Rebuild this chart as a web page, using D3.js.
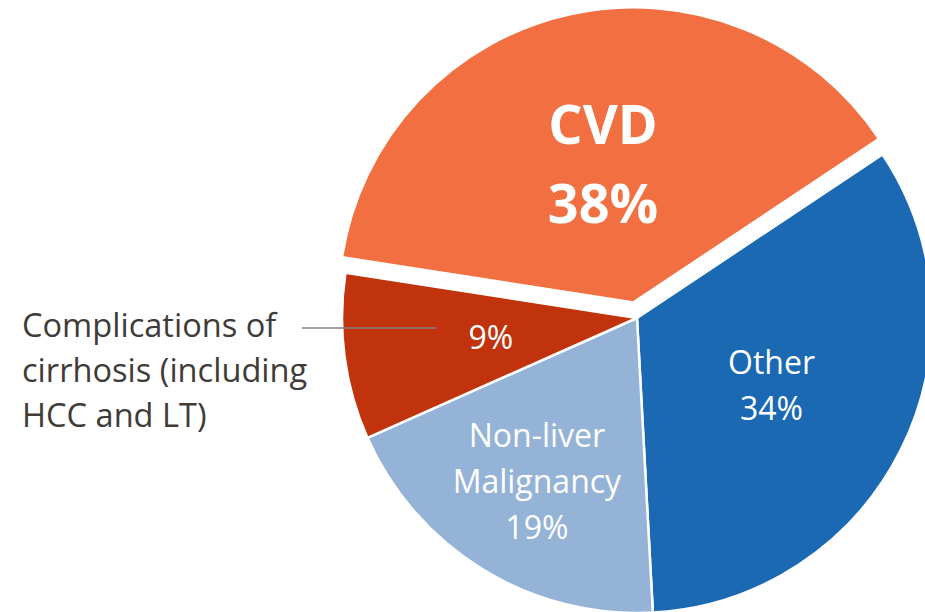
<!DOCTYPE html>
<html>
<head>
<meta charset="utf-8">
<script src="https://cdn.jsdelivr.net/npm/d3@7"></script>
<style>
  body { margin: 0; background: #fff; }
  svg { display: block; }
  text { font-family: "Open Sans", sans-serif; }
</style>
</head>
<body>
<svg id="chart"></svg>
<script>
const categories = ['CVD', 'Other', 'Non-liver Malignancy', 'Complications of cirrhosis (including HCC and LT)']
const values = [38.2, 33.5, 19.2, 9.1]
const pctLabels = ['38%', '34%', '19%', '9%']
const insideLabels = [['CVD'], ['Other'], ['Non-liver', 'Malignancy'], []]
const outsideLabel = ['Complications of', 'cirrhosis (including', 'HCC and LT)']
const colors = ['#F26F41', '#1C69B3', '#95B3D7', '#C0330D']

const W = 925, H = 612,
    cx = 637, cy = 318, R = 295, explode = 16,
    start = -81.2 * Math.PI / 180

// per-slice label settings (radius fraction, font)
const labelR = [0.48, 0.51, 0.65, 0.5],
    labelSize = [54, 32, 32, 32],
    labelWeight = ['bold', 'normal', 'normal', 'normal']

const svg = d3.select('#chart')
    .attr('width', W)
    .attr('height', H)

const pie = d3.pie().sort(null)
    .startAngle(start)
    .endAngle(start + 2 * Math.PI)

const arcs = pie(values)
const arc = d3.arc().innerRadius(0).outerRadius(R)

// only CVD is pulled out
function offset(d, i) {
    if (i !== 0) return [0, 0]
    const mid = (d.startAngle + d.endAngle) / 2
    return [Math.sin(mid) * explode, -Math.cos(mid) * explode]
}

const g = svg.append('g').attr('transform', `translate(${cx},${cy})`)

// Slices
g.selectAll('path.slice')
    .data(arcs)
    .enter()
        .append('path').classed('slice', true)
        .attr('d', arc)
        .attr('transform', (d, i) => `translate(${offset(d, i)})`)
        .attr('fill', (d, i) => colors[i])
        .attr('stroke', '#fff')
        .attr('stroke-width', 2.5)
        .attr('stroke-linejoin', 'round')

// Inside labels
g.selectAll('text.label')
    .data(arcs)
    .enter()
        .append('text').classed('label', true)
        .attr('text-anchor', 'middle')
        .attr('fill', '#fff')
        .attr('font-size', (d, i) => labelSize[i])
        .attr('font-weight', (d, i) => labelWeight[i])
        .each(function(d, i) {
            const r = R * labelR[i],
                c = d3.arc().innerRadius(r).outerRadius(r).centroid(d),
                o = offset(d, i),
                lines = insideLabels[i].concat([pctLabels[i]]),
                fs = labelSize[i],
                lh = fs * (labelWeight[i] === 'bold' ? 1.46 : 1.43)
            d3.select(this).selectAll('tspan')
                .data(lines)
                .enter()
                    .append('tspan')
                    .attr('x', c[0] + o[0])
                    .attr('y', (t, k) => c[1] + o[1] + (k - (lines.length - 1) / 2) * lh + fs * 0.357)
                    .text(t => t)
        })

// Outside label with leader line
svg.append('line')
    .attr('x1', 302).attr('y1', 328)
    .attr('x2', 436).attr('y2', 328)
    .attr('stroke', '#7F7F7F')
    .attr('stroke-width', 1.5)

svg.append('text')
    .attr('fill', '#403B38')
    .attr('font-size', 32.6)
    .selectAll('tspan')
    .data(outsideLabel)
    .enter()
        .append('tspan')
        .attr('x', 22)
        .attr('y', (t, k) => 337 + k * 45)
        .text(t => t)
</script>
</body>
</html>
